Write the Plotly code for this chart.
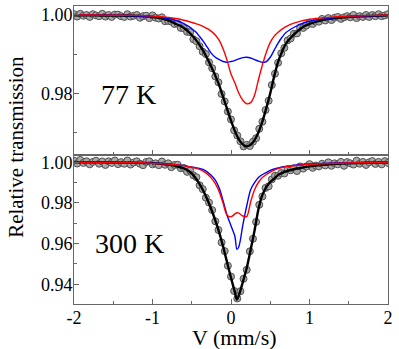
import plotly.graph_objects as go

# ---------------- data ----------------
velocity = [-2.00, -1.96, -1.92, -1.88, -1.84, -1.80, -1.76, -1.72, -1.68, -1.64, -1.60, -1.56, -1.52, -1.48,
            -1.44, -1.40, -1.36, -1.32, -1.28, -1.24, -1.20, -1.16, -1.12, -1.08, -1.04, -1.00, -0.96, -0.92,
            -0.88, -0.84, -0.80, -0.76, -0.72, -0.68, -0.64, -0.60, -0.56, -0.52, -0.48, -0.44, -0.40, -0.36,
            -0.32, -0.28, -0.24, -0.20, -0.16, -0.12, -0.08, -0.04, 0.00, 0.04, 0.08, 0.12, 0.16, 0.20, 0.24,
            0.28, 0.32, 0.36, 0.40, 0.44, 0.48, 0.52, 0.56, 0.60, 0.64, 0.68, 0.72, 0.76, 0.80, 0.84, 0.88,
            0.92, 0.96, 1.00, 1.04, 1.08, 1.12, 1.16, 1.20, 1.24, 1.28, 1.32, 1.36, 1.40, 1.44, 1.48, 1.52,
            1.56, 1.60, 1.64, 1.68, 1.72, 1.76, 1.80, 1.84, 1.88, 1.92, 1.96, 2.00]

data_77K = [1.0002, 0.9996, 1.0003, 0.9998, 1.0000, 0.9995, 1.0002, 0.9999, 0.9997, 1.0003, 0.9996, 1.0000,
            0.9995, 1.0001, 1.0001, 0.9997, 0.9995, 1.0002, 0.9996, 0.9998, 1.0000, 0.9993, 0.9997, 0.9998,
            0.9992, 0.9999, 0.9993, 0.9991, 0.9994, 0.9984, 0.9985, 0.9983, 0.9977, 0.9978, 0.9967, 0.9966,
            0.9957, 0.9956, 0.9938, 0.9933, 0.9920, 0.9906, 0.9900, 0.9879, 0.9864, 0.9843, 0.9828, 0.9798,
            0.9779, 0.9753, 0.9733, 0.9705, 0.9692, 0.9677, 0.9664, 0.9668, 0.9665, 0.9676, 0.9685, 0.9709,
            0.9727, 0.9757, 0.9781, 0.9821, 0.9850, 0.9878, 0.9902, 0.9916, 0.9935, 0.9940, 0.9952, 0.9953,
            0.9968, 0.9967, 0.9973, 0.9980, 0.9977, 0.9983, 0.9983, 0.9990, 0.9986, 0.9992, 0.9987, 0.9993,
            0.9995, 0.9990, 0.9994, 0.9997, 0.9994, 1.0000, 0.9992, 0.9997, 0.9995, 1.0000, 0.9995, 1.0000,
            0.9997, 1.0002, 0.9997, 0.9999, 1.0002]

data_300K = [1.0008, 0.9994, 1.0012, 0.9997, 1.0005, 0.9990, 1.0002, 1.0008, 0.9993, 1.0004, 0.9987, 1.0005,
             0.9997, 1.0009, 0.9991, 1.0001, 0.9993, 1.0009, 0.9989, 0.9999, 1.0005, 0.9993, 0.9986, 1.0002,
             1.0005, 0.9990, 0.9995, 0.9986, 1.0004, 0.9988, 0.9995, 0.9976, 0.9987, 0.9988, 0.9971, 0.9972,
             0.9953, 0.9959, 0.9936, 0.9927, 0.9887, 0.9868, 0.9826, 0.9802, 0.9765, 0.9710, 0.9667, 0.9606,
             0.9563, 0.9491, 0.9438, 0.9367, 0.9330, 0.9366, 0.9427, 0.9471, 0.9562, 0.9624, 0.9707, 0.9791,
             0.9832, 0.9874, 0.9882, 0.9916, 0.9934, 0.9934, 0.9947, 0.9945, 0.9966, 0.9961, 0.9971, 0.9957,
             0.9980, 0.9969, 0.9980, 0.9991, 0.9973, 0.9984, 0.9980, 0.9993, 0.9985, 1.0000, 0.9983, 0.9995,
             0.9990, 1.0002, 0.9983, 1.0001, 0.9995, 0.9989, 1.0008, 0.9993, 1.0002, 0.9987, 1.0000, 1.0006,
             0.9992, 1.0002, 0.9990, 1.0006, 0.9997]

fit_v_77K = [-2.0, -1.75, -1.5, -1.25, -1.0, -0.9, -0.8, -0.7, -0.6, -0.55, -0.5, -0.45, -0.4, -0.35, -0.3,
             -0.25, -0.2, -0.15, -0.1, -0.05, 0.0, 0.05, 0.1, 0.15, 0.2, 0.25, 0.3, 0.35, 0.4, 0.45, 0.5,
             0.55, 0.6, 0.65, 0.7, 0.8, 0.9, 1.0, 1.25, 1.5, 1.75, 2.0]
total_77K = [0.99995, 0.9999, 0.99985, 0.9998, 0.9995, 0.9992, 0.9986, 0.9977, 0.9967, 0.9959, 0.9949, 0.9937,
             0.9923, 0.9907, 0.9888, 0.9867, 0.9845, 0.9820, 0.9790, 0.9760, 0.9730, 0.9703, 0.9682, 0.9669,
             0.9664, 0.9668, 0.9680, 0.9700, 0.9728, 0.9762, 0.9800, 0.9843, 0.9880, 0.9906, 0.9927, 0.9950,
             0.9967, 0.9977, 0.9990, 0.9995, 0.99975, 0.9999]
blue_77K = [1.0000, 0.99998, 0.99993, 0.99985, 0.99955, 0.9994, 0.9991, 0.9986, 0.9978, 0.9972, 0.9965, 0.9957,
            0.9945, 0.9932, 0.9917, 0.9902, 0.9892, 0.9886, 0.9881, 0.9879, 0.9881, 0.9884, 0.9888, 0.9891,
            0.9892, 0.9890, 0.9886, 0.9882, 0.9879, 0.9881, 0.9892, 0.9910, 0.9928, 0.9943, 0.9955, 0.9968,
            0.9978, 0.9984, 0.9992, 0.9996, 0.9998, 0.9999]
red_77K = [1.0000, 1.0000, 0.99995, 0.9999, 0.9997, 0.99955, 0.9994, 0.9991, 0.99865, 0.9984, 0.9981, 0.9978,
           0.99745, 0.9970, 0.9965, 0.9958, 0.9949, 0.9935, 0.9913, 0.9884, 0.9849, 0.9826, 0.9800, 0.9782,
           0.9773, 0.9776, 0.9795, 0.9835, 0.9872, 0.9905, 0.9930, 0.9946, 0.9956, 0.9964, 0.9970, 0.9979,
           0.9985, 0.9989, 0.9994, 0.9997, 0.99985, 1.0000]

fit_v_300K = [-2.0, -1.75, -1.5, -1.25, -1.0, -0.9, -0.8, -0.7, -0.6, -0.55, -0.5, -0.45, -0.4, -0.35, -0.3,
              -0.25, -0.2, -0.15, -0.1, -0.05, 0.0, 0.05, 0.075, 0.1, 0.15, 0.2, 0.25, 0.3, 0.35, 0.4, 0.45,
              0.5, 0.55, 0.6, 0.65, 0.7, 0.8, 0.9, 1.0, 1.25, 1.5, 1.75, 2.0]
total_300K = [1.0000, 1.0000, 0.9999, 0.9998, 0.9996, 0.9993, 0.9989, 0.9982, 0.9970, 0.9960, 0.9946, 0.9922,
              0.9893, 0.9858, 0.9816, 0.9768, 0.9714, 0.9654, 0.9585, 0.9508, 0.9432, 0.9360, 0.9325, 0.9345,
              0.9410, 0.9480, 0.9570, 0.9665, 0.9770, 0.9840, 0.9878, 0.9903, 0.9920, 0.9938, 0.9947, 0.9955,
              0.9966, 0.9973, 0.9980, 0.9990, 0.9995, 0.9998, 0.9999]
blue_300K = [1.0000, 1.0000, 0.99995, 0.9999, 0.9996, 0.9994, 0.9991, 0.9988, 0.9984, 0.9980, 0.9977, 0.9974,
             0.9970, 0.9964, 0.9952, 0.9935, 0.9912, 0.9873, 0.9810, 0.9740, 0.9688, 0.9635, 0.9572, 0.9585,
             0.9690, 0.9785, 0.9865, 0.9900, 0.9925, 0.9940, 0.9950, 0.9960, 0.9967, 0.9972, 0.9977, 0.9980,
             0.9985, 0.9989, 0.9992, 0.9996, 0.9998, 0.9999, 1.0000]
red_300K = [1.0000, 1.0000, 0.99995, 0.9999, 0.9995, 0.9993, 0.9991, 0.9988, 0.9984, 0.9980, 0.9976, 0.9971,
            0.9965, 0.9955, 0.9942, 0.9922, 0.9895, 0.9855, 0.9797, 0.9740, 0.9732, 0.9746, 0.9752, 0.9750,
            0.9736, 0.9733, 0.9805, 0.9865, 0.9902, 0.9925, 0.9940, 0.9952, 0.9962, 0.9969, 0.9974, 0.9978,
            0.9983, 0.9987, 0.9990, 0.9994, 0.9997, 0.9999, 1.0000]

x_tickvals = [-2, -1, 0, 1, 2]
x_ticktext = ["-2", "-1", "0", "1", "2"]
y_ticks_77K = [0.98, 1.00]
y_ticks_300K = [0.94, 0.96, 0.98, 1.00]
panel_labels = ["77 K", "300 K"]

# ---------------- figure ----------------
FONT = "Liberation Serif"
AXC = "#666666"
fig = go.Figure()

marker = dict(symbol="circle", size=7, color="#a8a8a8", line=dict(color="#505050", width=1))

def add_panel(xa, ya, data, fv, tot, blue, red):
    fig.add_trace(go.Scatter(x=velocity, y=data, mode="markers", marker=marker,
                             xaxis=xa, yaxis=ya, showlegend=False, hoverinfo="skip"))
    fig.add_trace(go.Scatter(x=fv, y=tot, mode="lines", line=dict(color="black", width=2.4, shape="spline", smoothing=0.8),
                             xaxis=xa, yaxis=ya, showlegend=False))
    fig.add_trace(go.Scatter(x=fv, y=blue, mode="lines", line=dict(color="#0000ff", width=1.4, shape="spline", smoothing=0.8),
                             xaxis=xa, yaxis=ya, showlegend=False))
    fig.add_trace(go.Scatter(x=fv, y=red, mode="lines", line=dict(color="#ff0000", width=1.4, shape="spline", smoothing=0.8),
                             xaxis=xa, yaxis=ya, showlegend=False))

add_panel("x2", "y2", data_77K, fit_v_77K, total_77K, blue_77K, red_77K)
add_panel("x", "y", data_300K, fit_v_300K, total_300K, blue_300K, red_300K)

common_x = dict(range=[-2, 2], showline=True, linecolor=AXC, linewidth=1, mirror=True, automargin=False,
                ticks="inside", ticklen=5, tickcolor=AXC, tickvals=x_tickvals, ticktext=x_ticktext,
                ticklabelstandoff=-3,
                minor=dict(ticks="inside", ticklen=3, tickcolor=AXC, dtick=0.5, tick0=0),
                showgrid=False, zeroline=False,
                tickfont=dict(family=FONT, size=18, color="black"))
common_y = dict(showline=True, linecolor=AXC, linewidth=1, mirror=True, automargin=False,
                ticks="inside", ticklen=5, tickcolor=AXC, tickformat=".2f", ticklabelstandoff=-3,
                minor=dict(ticks="inside", ticklen=3, tickcolor=AXC, dtick=0.01, tick0=0.99),
                showgrid=False, zeroline=False,
                tickfont=dict(family=FONT, size=18, color="black"))

fig.update_layout(
    width=399, height=349,
    margin=dict(l=74, r=11, t=6, b=45),
    paper_bgcolor="white", plot_bgcolor="white",
    font=dict(family=FONT, color="black"),
    xaxis=dict(common_x, anchor="y", domain=[0, 1]),
    yaxis=dict(common_y, domain=[0, 0.5], range=[0.9303, 1.0036], tickvals=y_ticks_300K),
    xaxis2=dict(common_x, anchor="y2", domain=[0, 1], showticklabels=False),
    yaxis2=dict(common_y, domain=[0.5, 1], range=[0.9642, 1.0023], tickvals=y_ticks_77K),
    annotations=[
        dict(text=panel_labels[0], x=-1.30, y=0.9796, xref="x2", yref="y2", showarrow=False,
             font=dict(family=FONT, size=28, color="black"), xanchor="center", yanchor="middle"),
        dict(text=panel_labels[1], x=-1.29, y=0.9603, xref="x", yref="y", showarrow=False,
             font=dict(family=FONT, size=28, color="black"), xanchor="center", yanchor="middle"),
        dict(text="Relative transmission", x=-0.185, y=0.527, xref="paper", yref="paper", showarrow=False,
             textangle=-90, font=dict(family=FONT, size=21, color="black"), xanchor="center", yanchor="middle"),
        dict(text="V (mm/s)", x=0.51, y=-0.112, xref="paper", yref="paper", showarrow=False,
             font=dict(family=FONT, size=22, color="black"), xanchor="center", yanchor="middle"),
    ],
)

fig.write_html("out.html", config={"displayModeBar": False},
               post_script="document.body.style.margin='0';document.body.style.padding='0';")
